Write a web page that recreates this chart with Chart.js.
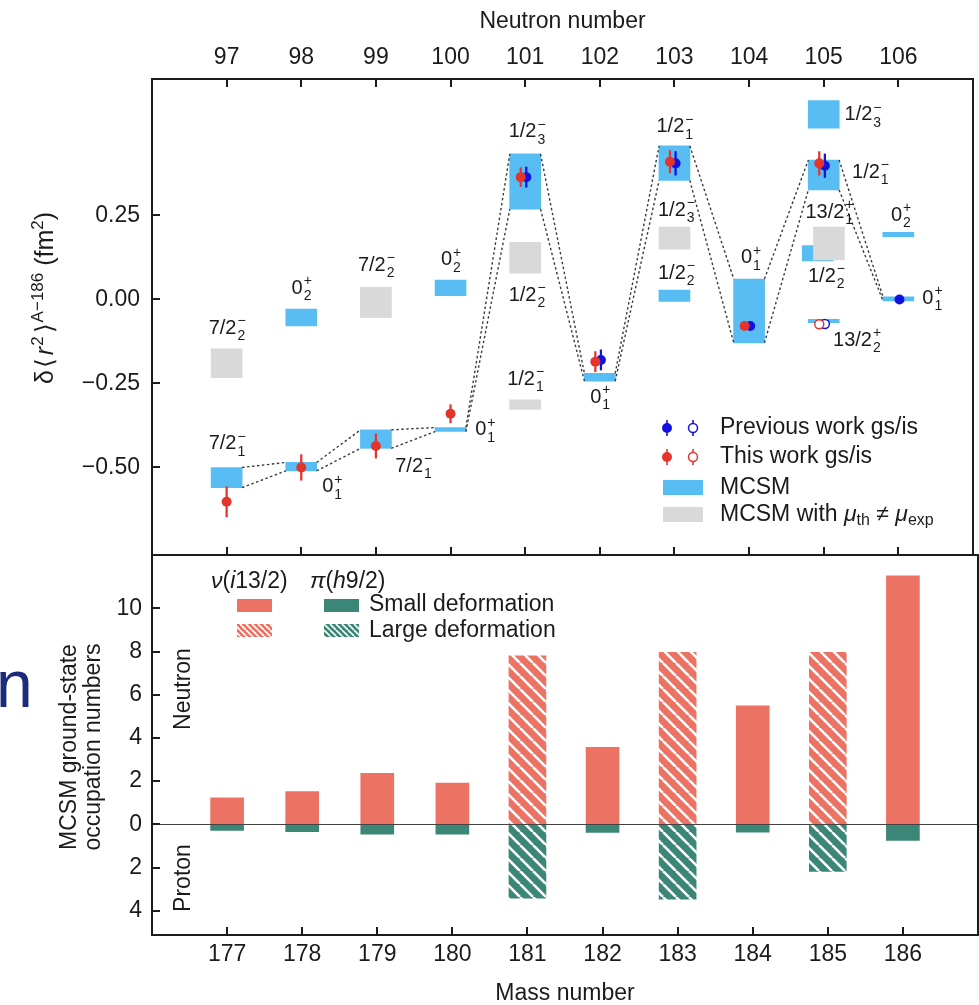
<!DOCTYPE html>
<html>
<head>
<meta charset="utf-8">
<title>Charge radii and MCSM occupation numbers</title>
<script src="https://cdn.jsdelivr.net/npm/chart.js@4.4.1/dist/chart.umd.min.js"></script>
<style>
  html, body { margin: 0; padding: 0; background: #fff; }
  #stage { position: relative; width: 979px; height: 1005px; overflow: hidden; }
  #stage canvas { position: absolute; left: 0; top: 0; }
</style>
</head>
<body>
<div id="stage">
  <canvas id="occupation" width="979" height="1005"></canvas>
  <canvas id="radii" width="979" height="1005"></canvas>
</div>
<script>
// ---------- data ----------
const neutronNumbers = [97, 98, 99, 100, 101, 102, 103, 104, 105, 106];
const massNumbers = [177, 178, 179, 180, 181, 182, 183, 184, 185, 186];
const radiusTicks = [-0.5, -0.25, 0, 0.25];
const occTicks = [-4, -2, 0, 2, 4, 6, 8, 10];

// MCSM ground-state band (joined by the dotted lines)
const gsLow  = [-0.56, -0.51, -0.443, -0.393, 0.269, -0.243, 0.354, -0.129, 0.326, -0.004];
const gsHigh = [-0.50, -0.485, -0.388, -0.381, 0.433, -0.22, 0.457, 0.061, 0.415, 0.008];

// other MCSM states
const mcsmN    = [98, 100, 103, 105, 105, 105, 106];
const mcsmLow  = [-0.079, 0.011, -0.006, 0.51, 0.115, -0.069, 0.187];
const mcsmHigh = [-0.029, 0.058, 0.028, 0.592, 0.16, -0.059, 0.2];
const mcsmShift = [0, 0, 0, 0, -0.08, 0, 0];   // side-by-side at N = 105

// MCSM with mu_th != mu_exp
const grayN    = [97, 99, 101, 101, 103, 105];
const grayLow  = [-0.233, -0.054, 0.078, -0.327, 0.15, 0.118];
const grayHigh = [-0.147, 0.036, 0.17, -0.299, 0.215, 0.215];
const grayShift = [0, 0, 0, 0, 0, 0.07];

// this work (red), previous work (blue): ground state / isomer
const thisGsN   = [97, 98, 99, 100, 101, 102, 103, 104, 105];
const thisGs    = [-0.602, -0.50, -0.436, -0.340, 0.364, -0.185, 0.41, -0.079, 0.405];
const thisGsErr = [0.045, 0.038, 0.036, 0.027, 0.028, 0.03, 0.033, 0.01, 0.035];
const thisIsN   = [105];
const thisIs    = [-0.074];
const thisIsErr = [0.012];
const prevGsN   = [101, 102, 103, 104, 105, 106];
const prevGs    = [0.364, -0.18, 0.405, -0.079, 0.398, 0.0];
const prevGsErr = [0.03, 0.03, 0.035, 0.01, 0.035, 0.004];
const prevIsN   = [105];
const prevIs    = [-0.073];
const prevIsErr = [0.012];

// level labels: [N, level, spin, index, parity]
const stateLabels = [
  [97, -0.085, '7/2', '2', '\u2212'],
  [97, -0.430, '7/2', '1', '\u2212'],
  [98, 0.033, '0', '2', '+'],
  [98.41, -0.557, '0', '1', '+'],
  [99, 0.101, '7/2', '2', '\u2212'],
  [99.5, -0.496, '7/2', '1', '\u2212'],
  [100, 0.118, '0', '2', '+'],
  [100.46, -0.388, '0', '1', '+'],
  [101.02, 0.499, '1/2', '3', '\u2212'],
  [101.02, 0.013, '1/2', '2', '\u2212'],
  [101.0, -0.238, '1/2', '1', '\u2212'],
  [102.0, -0.292, '0', '1', '+'],
  [103.0, 0.514, '1/2', '1', '\u2212'],
  [103.02, 0.266, '1/2', '3', '\u2212'],
  [103.02, 0.078, '1/2', '2', '\u2212'],
  [104.02, 0.124, '0', '1', '+'],
  [105.52, 0.549, '1/2', '3', '\u2212'],
  [105.62, 0.378, '1/2', '1', '\u2212'],
  [105.07, 0.260, '13/2', '1', '+'],
  [105.03, 0.068, '1/2', '2', '\u2212'],
  [105.44, -0.121, '13/2', '2', '+'],
  [106.03, 0.251, '0', '2', '+'],
  [106.45, 0.004, '0', '1', '+']
];

// occupation numbers
const neutronOcc = [1.23, 1.51, 2.36, 1.91, 7.8, 3.56, 7.96, 5.49, 7.96, 11.5];
const protonOcc  = [0.28, 0.34, 0.46, 0.46, 3.42, 0.37, 3.47, 0.36, 2.18, 0.74];
const largeDeformation = [false, false, false, false, true, false, true, false, true, false];

// ---------- style ----------
const FONT = "'Liberation Sans', Arial, Helvetica, sans-serif";
const INK = '#1b1b1b';
const RED = '#e4342b';
const BLUE = '#1212e0';
const MCSM_BLUE = '#58bdf3';
const MCSM_GRAY = '#d9d9d9';
const NEU_RED = '#ec7264';
const PRO_GREEN = '#3b8677';
const boxHalf = 0.206;      // half of a 31 px box in N units
const redDodge = -0.06, blueDodge = 0.015;

Chart.defaults.font.family = FONT;
Chart.defaults.color = INK;

function hatch(color, tile, lw) {
  const c = document.createElement('canvas');
  c.width = c.height = tile;
  const g = c.getContext('2d');
  g.fillStyle = color;
  g.fillRect(0, 0, tile, tile);
  g.strokeStyle = '#fff';
  g.lineWidth = lw;
  g.beginPath();
  for (let k = -1; k <= 1; k++) { g.moveTo(k * tile, 0); g.lineTo(k * tile + tile, tile); }
  g.stroke();
  return g.createPattern(c, 'repeat');
}

function fontOf(r, base) {
  return (r.it ? 'italic ' : '') + (r.s || base) + 'px ' + FONT;
}
function runsWidth(ctx, runs, base) {
  return runs.reduce((w, r) => { ctx.font = fontOf(r, base); return w + ctx.measureText(r.t).width + (r.pad || 0); }, 0);
}
function drawRuns(ctx, runs, x, y, base, align) {
  let cx = align === 'center' ? x - runsWidth(ctx, runs, base) / 2 : x;
  ctx.textAlign = 'left';
  runs.forEach(r => {
    ctx.font = fontOf(r, base);
    ctx.fillText(r.t, cx, y + (r.dy || 0));
    cx += ctx.measureText(r.t).width + (r.pad || 0);
  });
}

function drawState(ctx, x, y, spin, sub, sup) {
  const big = '20px ' + FONT, small = '14px ' + FONT;
  ctx.font = big;
  const w = ctx.measureText(spin).width;
  ctx.font = small;
  const ws = Math.max(ctx.measureText(sub).width, ctx.measureText(sup).width);
  const x0 = x - (w + ws) / 2;
  ctx.textAlign = 'left';
  ctx.textBaseline = 'middle';
  ctx.font = big;
  ctx.fillText(spin, x0, y);
  ctx.font = small;
  ctx.fillText(sub, x0 + w + 1, y + 8);
  ctx.fillText(sup, x0 + w + 1, y - 7);
}

function errMarker(ctx, cx, cy, color, open) {
  ctx.strokeStyle = color;
  ctx.lineWidth = 1.6;
  ctx.beginPath(); ctx.moveTo(cx, cy - 8); ctx.lineTo(cx, cy + 8); ctx.stroke();
  ctx.beginPath();
  ctx.arc(cx, cy, open ? 4.5 : 5, 0, Math.PI * 2);
  if (open) { ctx.fillStyle = '#fff'; ctx.fill(); ctx.lineWidth = 1.5; ctx.stroke(); }
  else { ctx.fillStyle = color; ctx.fill(); }
}

// ---------- top panel: charge radii ----------
const prevHas = n => prevGsN.includes(n);
const redX = n => n + (prevHas(n) ? redDodge : 0);

function connector(edge) {
  const pts = [];
  for (let i = 0; i < neutronNumbers.length - 1; i++) {
    pts.push({x: neutronNumbers[i] + boxHalf, y: edge[i]});
    pts.push({x: neutronNumbers[i + 1] - boxHalf, y: edge[i + 1]});
    pts.push({x: neutronNumbers[i + 1], y: null});
  }
  return pts;
}

const pointSet = (xs, ys, color, open, order) => ({
  type: 'scatter',
  data: xs.map((x, i) => ({x, y: ys[i]})),
  pointRadius: open ? 4.5 : 5,
  pointBackgroundColor: open ? '#fff' : color,
  pointBorderColor: color,
  pointBorderWidth: open ? 1.5 : 0,
  order
});
const errSet = (xs, ys, es, color, order) => ({
  type: 'bar',
  data: xs.map((x, i) => ({x, y: [ys[i] - es[i], ys[i] + es[i]]})),
  backgroundColor: color,
  barThickness: 1.6,
  order
});
const lineSet = edge => ({
  type: 'line',
  data: connector(edge),
  borderColor: '#3a3a3a',
  borderWidth: 1.4,
  borderDash: [2.5, 2.5],
  pointRadius: 0,
  spanGaps: false,
  fill: false,
  order: 4
});

const radiiDecor = {
  id: 'radiiDecor',
  afterDatasetsDraw(chart) {
    const {ctx, scales: {x, y}} = chart;
    ctx.save();
    ctx.fillStyle = INK;
    stateLabels.forEach(([n, v, spin, sub, sup]) =>
      drawState(ctx, x.getPixelForValue(n), y.getPixelForValue(v), spin, sub, sup));
    ctx.restore();
  },
  afterDraw(chart) {
    const {ctx, chartArea: a, scales: {x, y}} = chart;
    ctx.save();
    ctx.strokeStyle = INK;
    ctx.lineWidth = 2;
    ctx.strokeRect(a.left, a.top, a.right - a.left, a.bottom - a.top);
    ctx.beginPath();
    neutronNumbers.forEach(n => {
      const px = Math.round(x.getPixelForValue(n));
      ctx.moveTo(px, a.top); ctx.lineTo(px, a.top + 8);
      ctx.moveTo(px, a.bottom); ctx.lineTo(px, a.bottom - 8);
    });
    radiusTicks.forEach(v => {
      const py = Math.round(y.getPixelForValue(v));
      ctx.moveTo(a.left, py); ctx.lineTo(a.left + 8, py);
    });
    ctx.stroke();

    // axis titles
    ctx.fillStyle = INK;
    ctx.textBaseline = 'alphabetic';
    ctx.textAlign = 'center';
    ctx.font = '23px ' + FONT;
    ctx.fillText('Neutron number', (a.left + a.right) / 2, 28);
    ctx.save();
    ctx.translate(53, 298);
    ctx.rotate(-Math.PI / 2);
    drawRuns(ctx, [
      {t: '\u03b4', pad: 2}, {t: '\u27e8', pad: 3}, {t: 'r', it: true, pad: 1}, {t: '2', s: 17, dy: -10, pad: 3},
      {t: '\u27e9', pad: 1}, {t: 'A\u2212186', s: 17, dy: -10}, {t: ' (fm'}, {t: '2', s: 17, dy: -10}, {t: ')'}
    ], 0, 0, 25, 'center');
    ctx.restore();

    // legend
    errMarker(ctx, 667, 428, BLUE, false);
    errMarker(ctx, 693, 428, BLUE, true);
    errMarker(ctx, 667, 457, RED, false);
    errMarker(ctx, 693, 457, RED, true);
    ctx.fillStyle = MCSM_BLUE;
    ctx.fillRect(663, 480, 40, 15);
    ctx.fillStyle = MCSM_GRAY;
    ctx.fillRect(663, 507, 40, 15);
    ctx.fillStyle = INK;
    ctx.textBaseline = 'middle';
    ctx.textAlign = 'left';
    ctx.font = '23px ' + FONT;
    ctx.fillText('Previous work gs/is', 720, 428);
    ctx.fillText('This work gs/is', 720, 457);
    ctx.fillText('MCSM', 720, 488);
    drawRuns(ctx, [
      {t: 'MCSM with '}, {t: '\u03bc', it: true}, {t: 'th', s: 16, dy: 6},
      {t: ' \u2260 '}, {t: '\u03bc', it: true}, {t: 'exp', s: 16, dy: 6}
    ], 720, 515, 23, 'left');
    ctx.restore();
  }
};

new Chart(document.getElementById('radii'), {
  type: 'bar',
  data: {
    datasets: [
      pointSet(thisGsN.map(redX), thisGs, RED, false, 0),
      pointSet(thisIsN.map(redX), thisIs, RED, true, 0),
      errSet(thisGsN.map(redX), thisGs, thisGsErr, RED, 1),
      errSet(thisIsN.map(redX), thisIs, thisIsErr, RED, 1),
      pointSet(prevGsN.map(n => n + blueDodge), prevGs, BLUE, false, 2),
      pointSet(prevIsN.map(n => n + blueDodge), prevIs, BLUE, true, 2),
      errSet(prevGsN.map(n => n + blueDodge), prevGs, prevGsErr, BLUE, 3),
      errSet(prevIsN.map(n => n + blueDodge), prevIs, prevIsErr, BLUE, 3),
      lineSet(gsHigh),
      lineSet(gsLow),
      {
        type: 'bar',
        data: grayN.map((n, i) => ({x: n + grayShift[i], y: [grayLow[i], grayHigh[i]]})),
        backgroundColor: MCSM_GRAY,
        barThickness: 31,
        order: 5
      },
      {
        type: 'bar',
        data: neutronNumbers.map((n, i) => ({x: n, y: [gsLow[i], gsHigh[i]]}))
          .concat(mcsmN.map((n, i) => ({x: n + mcsmShift[i], y: [mcsmLow[i], mcsmHigh[i]]}))),
        backgroundColor: MCSM_BLUE,
        barThickness: 31,
        order: 6
      }
    ]
  },
  options: {
    responsive: false,
    animation: false,
    events: [],
    datasets: { bar: { grouped: false } },
    layout: { padding: { left: 0, right: 1, top: 0, bottom: 450 } },
    plugins: { legend: { display: false }, tooltip: { enabled: false } },
    scales: {
      x: {
        type: 'linear', position: 'top', min: 96, max: 107, offset: false,
        grid: { display: false, drawTicks: false, offset: false }, border: { display: false },
        afterBuildTicks: s => { s.ticks = neutronNumbers.map(v => ({value: v})); },
        afterFit: s => { s.height = 79; },
        ticks: { font: { size: 23 }, padding: 8, autoSkip: false, maxRotation: 0, callback: v => String(v) }
      },
      y: {
        type: 'linear', min: -0.7604, max: 0.656,
        grid: { display: false, drawTicks: false }, border: { display: false },
        afterBuildTicks: s => { s.ticks = radiusTicks.map(v => ({value: v})); },
        afterFit: s => { s.width = 152; },
        ticks: { font: { size: 23 }, padding: 12, callback: v => (v < 0 ? '\u2212' : '') + Math.abs(v).toFixed(2) }
      }
    }
  },
  plugins: [radiiDecor]
});

// ---------- bottom panel: occupation numbers ----------
const neuHatch = hatch(NEU_RED, 13, 2.6);
const proHatch = hatch(PRO_GREEN, 13, 2.6);

const occSet = (large, neutron) => ({
  type: 'bar',
  data: massNumbers
    .map((m, i) => ({m, i}))
    .filter(d => largeDeformation[d.i] === large)
    .map(({m, i}) => ({x: m, y: neutron ? [0, neutronOcc[i]] : [-protonOcc[i], 0]})),
  backgroundColor: large ? (neutron ? neuHatch : proHatch) : (neutron ? NEU_RED : PRO_GREEN),
  barThickness: large ? 37 : 33
});

const occDecor = {
  id: 'occDecor',
  afterDatasetsDraw(chart) {
    const {ctx, chartArea: a, scales: {y}} = chart;
    const y0 = Math.round(y.getPixelForValue(0)) + 0.5;
    ctx.save();
    ctx.strokeStyle = '#444';
    ctx.lineWidth = 1;
    ctx.beginPath(); ctx.moveTo(a.left, y0); ctx.lineTo(a.right, y0); ctx.stroke();
    ctx.restore();
  },
  afterDraw(chart) {
    const {ctx, chartArea: a, scales: {x, y}} = chart;
    ctx.save();
    ctx.strokeStyle = INK;
    ctx.lineWidth = 2;
    ctx.strokeRect(a.left, a.top, a.right - a.left, a.bottom - a.top);
    ctx.beginPath();
    massNumbers.forEach(m => {
      const px = Math.round(x.getPixelForValue(m));
      ctx.moveTo(px, a.bottom); ctx.lineTo(px, a.bottom - 8);
    });
    occTicks.forEach(v => {
      const py = Math.round(y.getPixelForValue(v));
      ctx.moveTo(a.left, py); ctx.lineTo(a.left + 8, py);
    });
    ctx.stroke();

    // legend
    ctx.fillStyle = INK;
    ctx.textBaseline = 'middle';
    drawRuns(ctx, [{t: '\u03bd', it: true}, {t: '('}, {t: 'i', it: true}, {t: '13/2)'}], 211, 582, 23, 'left');
    drawRuns(ctx, [{t: '\u03c0', it: true}, {t: '('}, {t: 'h', it: true}, {t: '9/2)'}], 310, 582, 23, 'left');
    ctx.fillStyle = NEU_RED;   ctx.fillRect(237, 599, 35, 13);
    ctx.fillStyle = hatch(NEU_RED, 6, 1.6); ctx.fillRect(237, 624, 35, 13);
    ctx.fillStyle = PRO_GREEN; ctx.fillRect(324, 599, 35, 13);
    ctx.fillStyle = hatch(PRO_GREEN, 6, 1.6); ctx.fillRect(324, 624, 35, 13);
    ctx.fillStyle = INK;
    ctx.font = '23px ' + FONT;
    ctx.textAlign = 'left';
    ctx.fillText('Small deformation', 369, 605);
    ctx.fillText('Large deformation', 369, 631);

    // in-panel and axis titles
    ctx.textBaseline = 'alphabetic';
    ctx.textAlign = 'center';
    [['Neutron', 689], ['Proton', 878]].forEach(([t, cy]) => {
      ctx.save(); ctx.translate(190, cy); ctx.rotate(-Math.PI / 2); ctx.fillText(t, 0, 0); ctx.restore();
    });
    [['MCSM ground-state', 76], ['occupation numbers', 100]].forEach(([t, bx]) => {
      ctx.save(); ctx.translate(bx, 747); ctx.rotate(-Math.PI / 2); ctx.fillText(t, 0, 0); ctx.restore();
    });
    ctx.fillText('Mass number', (a.left + a.right) / 2, 1000);

    // stray slide letter at the left edge
    ctx.fillStyle = '#1d2b7c';
    ctx.textAlign = 'left';
    ctx.font = '66px ' + FONT;
    ctx.fillText('n', -4, 707);
    ctx.restore();
  }
};

new Chart(document.getElementById('occupation'), {
  type: 'bar',
  data: {
    datasets: [occSet(false, true), occSet(true, true), occSet(false, false), occSet(true, false)]
  },
  options: {
    responsive: false,
    animation: false,
    events: [],
    datasets: { bar: { grouped: false } },
    layout: { padding: { left: 0, right: 1, top: 555, bottom: 0 } },
    plugins: { legend: { display: false }, tooltip: { enabled: false } },
    scales: {
      x: {
        type: 'linear', position: 'bottom', min: 176, max: 187, offset: false,
        grid: { display: false, drawTicks: false, offset: false }, border: { display: false },
        afterBuildTicks: s => { s.ticks = massNumbers.map(v => ({value: v})); },
        afterFit: s => { s.height = 70; },
        ticks: { font: { size: 23 }, padding: 6, autoSkip: false, maxRotation: 0, callback: v => String(v) }
      },
      y: {
        type: 'linear', min: -5.125, max: 12.47,
        grid: { display: false, drawTicks: false }, border: { display: false },
        afterBuildTicks: s => { s.ticks = occTicks.map(v => ({value: v})); },
        afterFit: s => { s.width = 152; },
        ticks: { font: { size: 23 }, padding: 10, callback: v => String(Math.abs(v)) }
      }
    }
  },
  plugins: [occDecor]
});
</script>
</body>
</html>
